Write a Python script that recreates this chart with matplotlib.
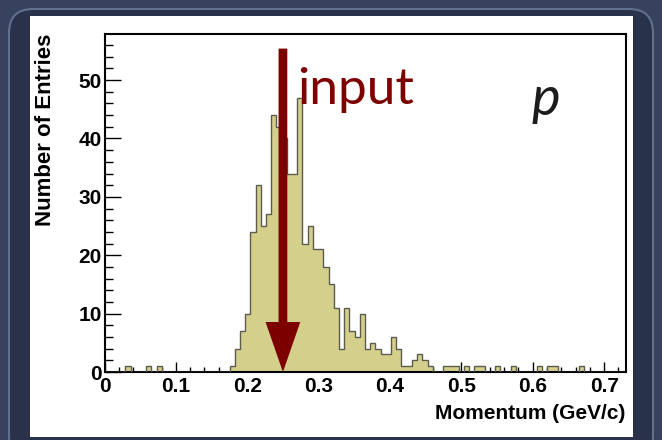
import matplotlib.pyplot as plt
from matplotlib.patches import FancyBboxPatch, Rectangle
from matplotlib.ticker import MultipleLocator
import numpy as np

# Momentum histogram: 100 bins from 0 to 0.73 GeV/c
n_bins = 100
p_min, p_max = 0.0, 0.73
counts = [0, 0, 0, 0, 1, 0, 0, 0, 1, 0,
          1, 0, 0, 0, 0, 0, 0, 0, 0, 0,
          0, 0, 0, 0, 1, 4, 7, 10, 24, 32,
          25, 27, 44, 42, 40, 34, 34, 47, 22, 25,
          21, 21, 18, 15, 11, 4, 11, 7, 6, 10,
          4, 5, 4, 3, 3, 6, 4, 1, 1, 2,
          3, 2, 1, 0, 0, 1, 1, 1, 0, 1,
          0, 1, 1, 0, 0, 1, 0, 0, 1, 0,
          0, 0, 0, 1, 0, 1, 1, 0, 0, 0,
          0, 1, 0, 0, 0, 0, 0, 0, 0, 0]
y_max = 57.9

# generated input momentum (arrow)
input_momentum = 0.25
arrow_top = 55.4

dark_red = '#7d0000'
fill_col = '#d4cf8b'

fig = plt.figure(figsize=(6.62, 4.40), dpi=100)
fig.patch.set_facecolor('#37425e')

# rounded dark band + white panel behind the plot (pixel coords)
band = FancyBboxPatch((9, -20), 644, 451, boxstyle='round,pad=0,rounding_size=24',
                      transform=None, fc='#29324a', ec='#62708f', lw=1.5, zorder=-3)
fig.patches.append(band)
panel = Rectangle((30, 3), 603, 421, transform=None, fc='white', ec='none', zorder=-2)
fig.patches.append(panel)

ax = fig.add_axes([104.5 / 662, 1 - 372 / 440, 521 / 662, 338 / 440])
ax.set_facecolor('white')

edges = np.linspace(p_min, p_max, n_bins + 1)
ax.stairs(counts, edges, fill=True, facecolor=fill_col, edgecolor='none', zorder=2)
ax.stairs(counts, edges, baseline=0, color='#5b5b50', lw=1.0, zorder=3)

ax.annotate('', xy=(input_momentum, 0), xytext=(input_momentum, arrow_top),
            arrowprops=dict(arrowstyle='simple,head_length=36,head_width=25,tail_width=6.3',
                            mutation_scale=1, fc=dark_red, ec='none', lw=0,
                            shrinkA=0, shrinkB=0),
            annotation_clip=False, zorder=5)

ax.text(0.270, 45.9, 'input', color=dark_red, fontsize=37, family='Lato',
        va='baseline', ha='left', zorder=6)
ax.text(0.598, 44.0, 'p', color='#1c1c1c', fontsize=39, family='Lato',
        style='italic', va='baseline', ha='left', zorder=6)

ax.set_xlim(p_min, p_max)
ax.set_ylim(0, y_max)

ax.xaxis.set_major_locator(MultipleLocator(0.1))
ax.xaxis.set_minor_locator(MultipleLocator(0.02))
ax.yaxis.set_major_locator(MultipleLocator(10))
ax.yaxis.set_minor_locator(MultipleLocator(2))
ax.xaxis.set_major_formatter(plt.FuncFormatter(lambda v, _: '0' if v == 0 else f'{v:.1f}'))

ax.tick_params(axis='x', which='major', direction='in', length=7.2, width=1, pad=3.6)
ax.tick_params(axis='x', which='minor', direction='in', length=3.6, width=1)
ax.tick_params(axis='y', which='major', direction='in', length=11.2, width=1, pad=2)
ax.tick_params(axis='y', which='minor', direction='in', length=5.6, width=1)
ax.tick_params(top=False, right=False, which='both')

for lab in ax.get_xticklabels() + ax.get_yticklabels():
    lab.set_fontfamily('Liberation Sans')
    lab.set_fontweight('bold')
    lab.set_fontsize(15)

for s in ax.spines.values():
    s.set_linewidth(1.5)
    s.set_color('black')

ax.set_xlabel('Momentum (GeV/c)', loc='right', family='Liberation Sans',
              fontweight='bold', fontsize=15)
ax.xaxis.set_label_coords(1.0, -0.095)
ax.set_ylabel('Number of Entries', loc='top', family='Liberation Sans',
              fontweight='bold', fontsize=16)
ax.yaxis.set_label_coords(-0.093, 1.0)

fig.savefig('out.png', dpi=100, facecolor=fig.get_facecolor())
